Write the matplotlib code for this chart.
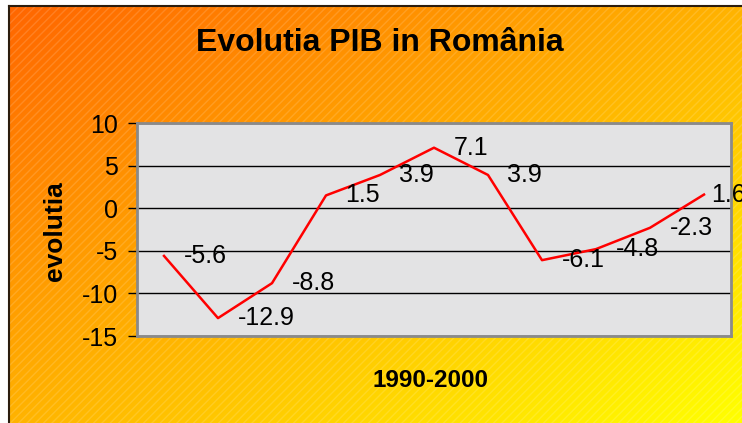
import numpy as np
import matplotlib
matplotlib.use("Agg")
import matplotlib.pyplot as plt
from matplotlib.colors import LinearSegmentedColormap
from matplotlib.patches import Rectangle

plt.rcParams['font.family'] = ['Liberation Sans', 'DejaVu Sans']

# data
years = [1990, 1991, 1992, 1993, 1994, 1995, 1996, 1997, 1998, 1999, 2000]
growth = [-5.6, -12.9, -8.8, 1.5, 3.9, 7.1, 3.9, -6.1, -4.8, -2.3, 1.6]
y_ticks = [-15, -10, -5, 0, 5, 10]

W, H = 742, 423
fig = plt.figure(figsize=(W / 100, H / 100), dpi=100)
fig.patch.set_facecolor('white')

# orange -> yellow background of the chart area
bg = fig.add_axes([8 / W, 0, 1 - 8 / W, 1 - 7 / H])
bg.set_axis_off()
u = np.linspace(0, 1, 300)
v = np.linspace(0, 1, 200)
U, V = np.meshgrid(u, v)
cmap = LinearSegmentedColormap.from_list('bg', ['#FF6600', '#FFB300', '#FFFF00'])
bg.imshow((U + V) / 2, cmap=cmap, aspect='auto', extent=[0, 1, 1, 0], vmin=0, vmax=1)
bg.add_patch(Rectangle((0, 0), 1, 1, transform=bg.transAxes, fill=False,
                       hatch='////', edgecolor=(1, 1, 1, 0.14), linewidth=0))
bg.set_xlim(0, 1)
bg.set_ylim(1, 0)
# dark frame on left and top
fig.add_artist(plt.Line2D([8.5 / W, 8.5 / W], [0, 1 - 6.5 / H], color='#2b1d0e', lw=1.5))
fig.add_artist(plt.Line2D([8.5 / W, 1], [1 - 6.5 / H, 1 - 6.5 / H], color='#2b1d0e', lw=1.5))

ax = fig.add_axes([137 / W, 1 - 336 / H, (731 - 137) / W, (336 - 123) / H])
ax.set_facecolor('#E3E3E4')
x = np.arange(len(years))
ax.plot(x, growth, color='#FF0000', lw=1.8, zorder=3)
for i, (xi, val) in enumerate(zip(x, growth)):
    # last label sits closer to the point, as in the original
    dx = 5 if i == len(growth) - 1 else 14
    ax.annotate(f'{val}', (xi, val), xytext=(dx, 0), textcoords='offset points',
                ha='left', va='center', fontsize=18, color='black',
                annotation_clip=False, zorder=4)

ax.set_xlim(-0.5, len(years) - 0.5)
ax.set_ylim(-15, 10)
ax.set_yticks(y_ticks)
ax.set_yticklabels([str(t) for t in y_ticks])
ax.set_xticks([])
ax.tick_params(axis='y', length=6.5, width=1, pad=7, labelsize=18, color='black')
ax.yaxis.grid(True, color='black', lw=1)
ax.set_axisbelow(True)
for side in ax.spines.values():
    side.set_color('#8a8a8a')
    side.set_linewidth(2)

fig.text(380 / W, 1 - 43 / H, 'Evolutia PIB in România', ha='center', va='center',
         fontsize=23, fontweight='bold')
fig.text(430 / W, 1 - 380 / H, '1990-2000', ha='center', va='center',
         fontsize=17.5, fontweight='bold')
fig.text(55 / W, 1 - 231 / H, 'evolutia', ha='center', va='center',
         fontsize=19, fontweight='bold', rotation=90)

fig.savefig('out.png', dpi=100)
